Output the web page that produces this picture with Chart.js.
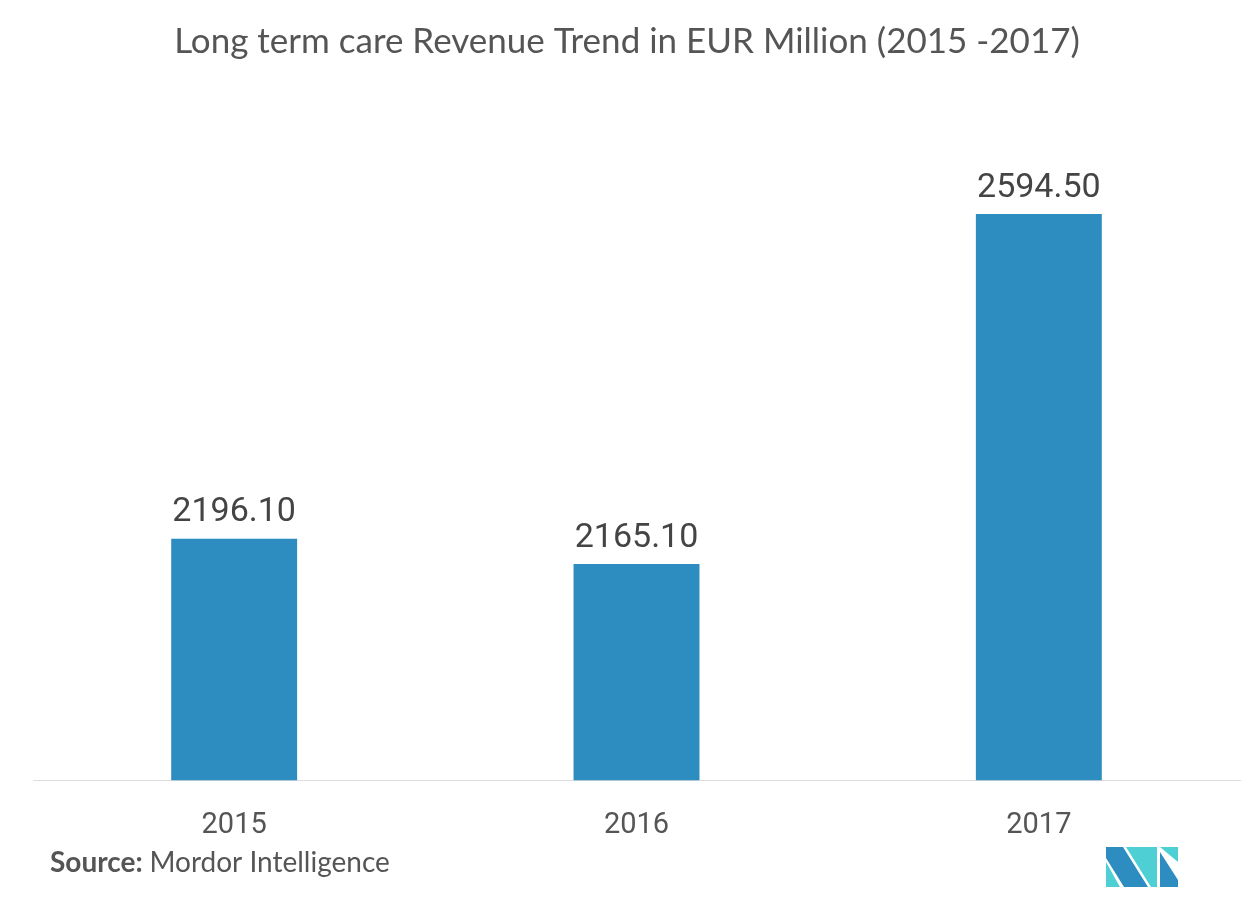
<!DOCTYPE html>
<html>
<head>
<meta charset="utf-8">
<script src="https://cdn.jsdelivr.net/npm/chart.js@4"></script>
<style>
  html, body { margin: 0; padding: 0; background: #fff; }
  #wrap { width: 1254px; height: 899px; position: relative; }
</style>
</head>
<body>
<div id="wrap"><canvas id="dis"></canvas></div>
<script>
const years = ['2015', '2016', '2017'];
const revenue = [2196.10, 2165.10, 2594.50];
const valueLabels = ['2196.10', '2165.10', '2594.50'];

// title, source line, logo and bar values
const extras = {
  id: 'extras',
  afterDraw(chart) {
    const c = chart.ctx;
    c.save();
    c.fillStyle = '#555';
    c.font = '35px Lato';
    c.textAlign = 'center';
    c.textBaseline = 'middle';
    c.fillText('Long term care Revenue Trend in EUR Million (2015 -2017)', 627, 42);

    c.textAlign = 'left';
    c.font = 'bold 28px Lato';
    c.fillText('Source:', 50, 863);
    const w = c.measureText('Source: ').width;
    c.font = '28px Lato';
    c.fillText('Mordor Intelligence', 50 + w, 863);

    // values over the bars
    c.fillStyle = '#444';
    c.font = '34px Roboto';
    c.textAlign = 'center';
    c.textBaseline = 'bottom';
    chart.getDatasetMeta(0).data.forEach((bar, i) => {
      c.fillText(valueLabels[i], bar.x, bar.y - 9);
    });

    // logo
    const dark = '#2e8dc0', light = '#4ecfd3';
    const poly = (pts, col) => {
      c.beginPath();
      c.moveTo(pts[0][0], pts[0][1]);
      pts.slice(1).forEach(p => c.lineTo(p[0], p[1]));
      c.closePath();
      c.fillStyle = col;
      c.fill();
    };
    poly([[1106, 862], [1106, 887], [1120, 887]], light);
    poly([[1106, 847], [1123, 847], [1148, 887], [1124, 887], [1106, 858]], dark);
    poly([[1126, 847], [1157, 847], [1157, 887], [1151, 887]], light);
    poly([[1160, 847], [1178, 847], [1178, 862]], light);
    poly([[1160, 852], [1178, 880], [1178, 887], [1160, 887]], dark);
    c.restore();
  }
};

window.onload = function() {
  const ctx = document.querySelector('#dis');

  new Chart(ctx, {
    type: 'bar',
    data: {
      labels: years,
      datasets: [{
        label: 'Revenue',
        data: revenue,
        backgroundColor: '#2e8dc0',
        barPercentage: 0.313,
        categoryPercentage: 1
      }]
    },
    options: {
      responsive: true,
      maintainAspectRatio: false,
      animation: false,
      layout: { padding: { top: 128, left: 33, right: 14, bottom: 36 } },
      plugins: {
        legend: { display: false },
        tooltip: { enabled: false }
      },
      scales: {
        x: {
          grid: { display: false },
          border: { display: true, color: '#ddd', width: 1 },
          ticks: { color: '#555', font: { family: 'Roboto', size: 29 }, padding: 20 }
        },
        y: {
          display: false,
          min: 1900,
          max: 2700
        }
      }
    },
    plugins: [extras]
  });
};
</script>
</body>
</html>
